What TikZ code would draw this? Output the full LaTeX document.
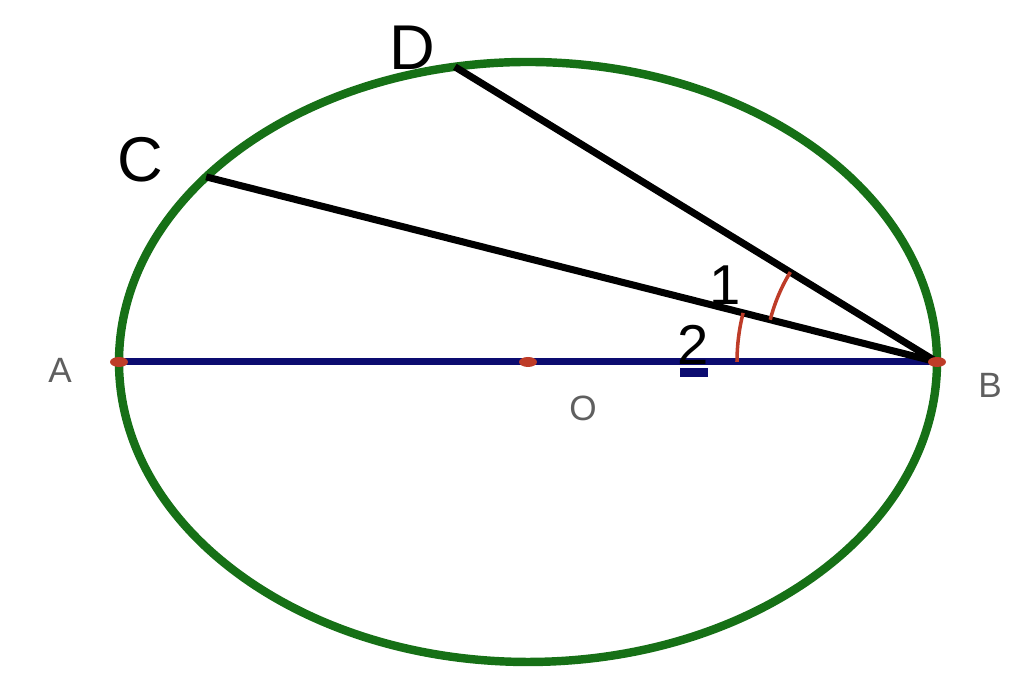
\documentclass[tikz,border=0pt]{standalone}
\usepackage{fontspec}
\setmainfont{Liberation Sans}
\usetikzlibrary{calc}
\definecolor{circgreen}{RGB}{22,112,22}
\definecolor{diamblue}{RGB}{12,12,112}
\definecolor{angred}{RGB}{190,60,40}
\definecolor{labgrey}{RGB}{95,95,95}

\begin{document}
\begin{tikzpicture}
    \useasboundingbox (0,0) rectangle (10.24,6.94);
    \coordinate (O) at (5.28,3.32);
    \path (O) ++(180:4.09 and 3.00) coordinate (A);
    \path (O) ++(0:4.09 and 3.00) coordinate (B);
    \path (O) ++(141.9:4.09 and 3.00) coordinate (C);
    \path (O) ++(100.3:4.09 and 3.00) coordinate (D);
    \draw[circgreen, line width=2.4pt] (O) ellipse (4.09 and 3.00);
    \draw[diamblue, line width=2pt] (A) -- (B);
    \draw[line width=2pt] (C) -- (B);
    \draw[line width=2pt] (D) -- (B);
    \draw[angred, line width=1pt] ($(B)+(148.5:1.72)$) arc (148.5:165.8:1.72);
    \draw[angred, line width=1pt] ($(B)+(165.8:2.0)$) arc (165.8:180:2.0);
    \fill[angred] (A) ellipse (0.09 and 0.05);
    \fill[angred] (B) ellipse (0.09 and 0.05);
    \fill[angred] (O) ellipse (0.09 and 0.05);
    \fill[diamblue] (6.80,3.17) rectangle (7.08,3.26);
    \node[labgrey, font=\fontsize{10}{12}\selectfont] (lA) at (0.60,3.24) {A};
    \node[labgrey, font=\fontsize{10}{12}\selectfont] (lB) at (9.90,3.09) {B};
    \node[labgrey, font=\fontsize{10}{12}\selectfont] (lO) at (5.83,2.86) {O};
    \node[font=\fontsize{18}{20}\selectfont] (lC) at (1.40,5.34) {C};
    \node[font=\fontsize{18}{20}\selectfont] (lD) at (4.12,6.46) {D};
    \node[font=\fontsize{16}{18}\selectfont] (l1) at (7.25,4.09) {1};
    \node[font=\fontsize{16}{18}\selectfont] (l2) at (6.93,3.49) {2};
\end{tikzpicture}
\end{document}
